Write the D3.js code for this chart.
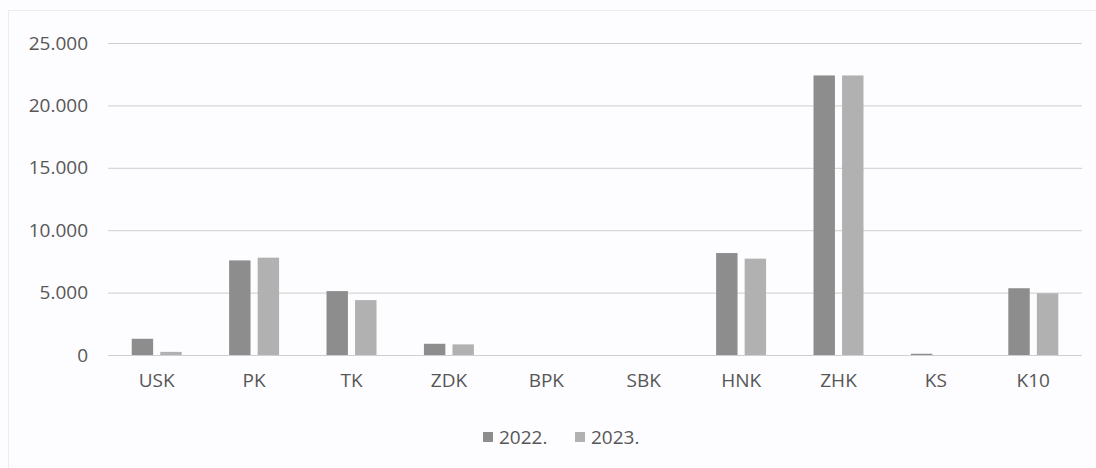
<!DOCTYPE html>
<html>
<head>
<meta charset="utf-8">
<script src="https://cdn.jsdelivr.net/npm/d3@7"></script>
<style>
  html, body { margin: 0; padding: 0; background: #fdfcfe; }
  svg { display: block; }
  text { font-family: "Open Sans", sans-serif; fill: #575757; }
</style>
</head>
<body>
<svg id="chart" width="1096" height="468"></svg>
<script>
const categories = ["USK", "PK", "TK", "ZDK", "BPK", "SBK", "HNK", "ZHK", "KS", "K10"];
const seriesNames = ["2022.", "2023."];
const values2022 = [1300, 7580, 5120, 900, 0, 0, 8170, 22400, 100, 5350];
const values2023 = [250, 7800, 4400, 850, 0, 0, 7720, 22400, 0, 4950];
const yTicks = [0, 5000, 10000, 15000, 20000, 25000];
const colors = ["#8d8d8d", "#b1b1b1"];

(function () {
const svg = d3.select("#chart");
const plotLeft = 108, plotRight = 1082, plotTop = 43, plotBottom = 355;

// faint chart border
svg.append("rect").attr("x", 8.5).attr("y", 10.5).attr("width", 1100).attr("height", 470)
  .attr("fill", "none").attr("stroke", "#ececec");

const y = d3.scaleLinear().domain([0, 25000]).range([plotBottom, plotTop]);
const x0 = d3.scaleBand().domain(categories).range([plotLeft, plotRight])
  .paddingInner(0.487).paddingOuter(0.2435);
const x1 = d3.scaleBand().domain(seriesNames).range([0, x0.bandwidth()]).paddingInner(0.25);

const fmt = v => d3.format(",")(v).replace(/,/g, ".");

// gridlines + y labels
const yAxis = d3.axisLeft(y).tickValues(yTicks).tickSize(-(plotRight - plotLeft)).tickFormat(fmt).tickPadding(20);
const gy = svg.append("g").attr("transform", `translate(${plotLeft},0)`).call(yAxis);
gy.select(".domain").remove();
gy.selectAll(".tick line").attr("stroke", "#cfcfcf").attr("stroke-width", 1);
gy.selectAll(".tick text").attr("font-size", 19).attr("fill", "#575757").attr("font-family", "Open Sans, sans-serif");

// bars
const data = categories.map((c, i) => ({cat: c, vals: [values2022[i], values2023[i]]}));
const groups = svg.append("g").selectAll("g").data(data).join("g")
  .attr("transform", d => `translate(${x0(d.cat)},0)`);
groups.selectAll("rect").data(d => d.vals.map((v, j) => ({key: seriesNames[j], v, j})))
  .join("rect")
  .attr("x", d => x1(d.key))
  .attr("width", x1.bandwidth())
  .attr("y", d => y(d.v))
  .attr("height", d => y(0) - y(d.v))
  .attr("fill", d => colors[d.j]);

// x axis labels
const xAxis = d3.axisBottom(x0).tickSize(0).tickPadding(19);
const gx = svg.append("g").attr("transform", `translate(0,${plotBottom})`).call(xAxis);
gx.select(".domain").remove();
gx.selectAll(".tick text").attr("font-size", 19).attr("fill", "#575757").attr("font-family", "Open Sans, sans-serif");

// legend
const legend = svg.append("g").attr("transform", "translate(0,437)");
const legX = [483, 575];
seriesNames.forEach((s, i) => {
  legend.append("rect").attr("x", legX[i]).attr("y", -5).attr("width", 10).attr("height", 10).attr("fill", colors[i]);
  legend.append("text").attr("x", legX[i] + 16).attr("y", 0).attr("dy", "0.35em")
    .attr("font-size", 19).text(s);
});
})();
</script>
</body>
</html>
